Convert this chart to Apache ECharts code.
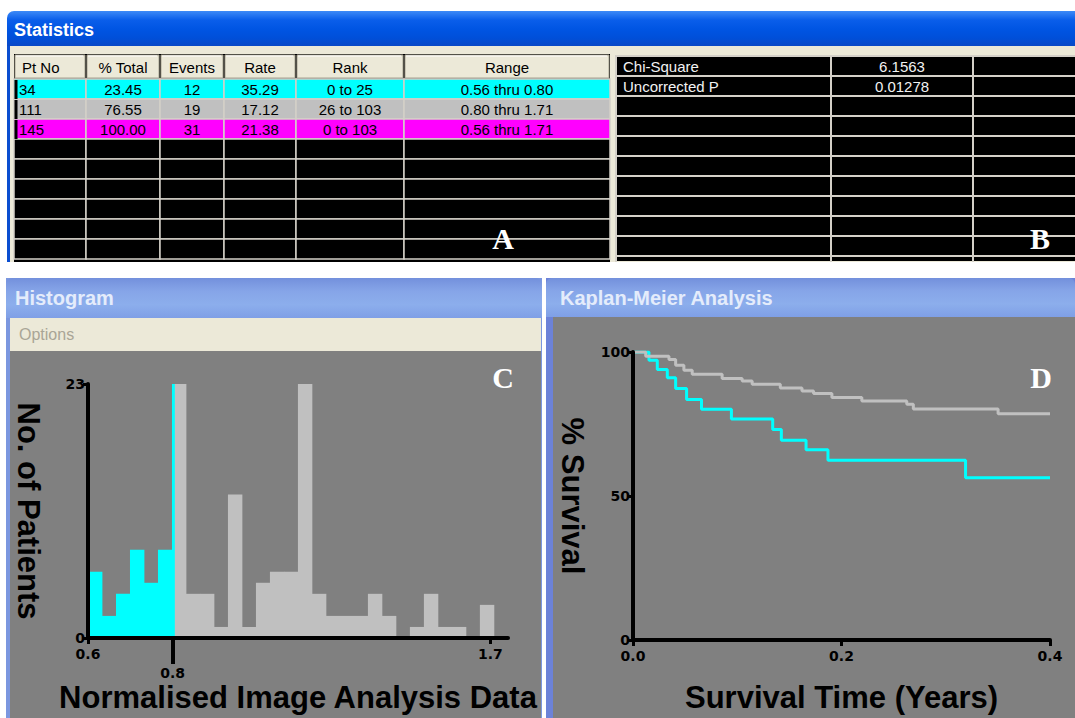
<!DOCTYPE html>
<html><head><meta charset="utf-8">
<script src="https://cdn.jsdelivr.net/npm/echarts@6/dist/echarts.min.js"></script>
<style>html,body{margin:0;padding:0;background:#fff;overflow:hidden}#c{width:1075px;height:718px}</style>
</head><body><div id="c"></div>
<script>
// ---------------- data ----------------
const statHeaders = ['Pt No', '% Total', 'Events', 'Rate', 'Rank', 'Range'];
const statPtNo = ['34', '111', '145'];
const statPctTotal = ['23.45', '76.55', '100.00'];
const statEvents = ['12', '19', '31'];
const statRate = ['35.29', '17.12', '21.38'];
const statRank = ['0 to 25', '26 to 103', '0 to 103'];
const statRange = ['0.56 thru 0.80', '0.80 thru 1.71', '0.56 thru 1.71'];
const testNames = ['Chi-Square', 'Uncorrected P'];
const testValues = ['6.1563', '0.01278'];

const histMin = 0.56, histMax = 1.71, histCut = 0.806;
const histCounts = [6, 2, 4, 8, 5, 8, 23, 4, 4, 1, 13, 1, 5, 6, 6, 23, 4, 2, 2, 2, 4, 2, 0, 1, 4, 1, 1, 0, 3];
const histXTicks = [0.56, 1.7];
const histXTickMid = [0.8];

const kmTimeLow = [0, 0.0153, 0.0233, 0.0329, 0.0409, 0.0514, 0.0657, 0.0944, 0.134, 0.1423, 0.166, 0.187, 0.319, 0.4];
const kmSurvLow = [100, 97.1, 93.9, 91.1, 87.3, 83.5, 80.1, 76.7, 73.1, 69.4, 66.1, 62.4, 56.3, 56.3];
const kmTimeHigh = [0, 0.0122, 0.0345, 0.0409, 0.0488, 0.0568, 0.0855, 0.1047, 0.1143, 0.1413, 0.1621, 0.1732, 0.1908, 0.2195, 0.2626, 0.2689, 0.3502, 0.4];
const kmSurvHigh = [100, 98.5, 97.4, 95.4, 93.7, 92.3, 90.8, 89.9, 88.8, 87.5, 86.5, 85.6, 84.2, 83.0, 81.9, 80.2, 78.6, 78.6];

// ---------------- styles ----------------
const CYAN = '#00FFFF', GREY = '#C0C0C0', MAGENTA = '#FF00FF';
const rowColors = [CYAN, GREY, MAGENTA];
const BEIGE = '#ECE9D8', GRIDLINE = '#D4D0C8', PLOTBG = '#808080';
const SANS = '"Liberation Sans", Arial, sans-serif';

const G = [];
function rect(x, y, w, h, fill, extra) {
  G.push(Object.assign({ type: 'rect', silent: true, z: -5, shape: { x, y, width: w, height: h }, style: { fill } }, extra || {}));
}
function line(x1, y1, x2, y2, stroke, lw) {
  G.push({ type: 'line', silent: true, z: -4, shape: { x1, y1, x2, y2 }, style: { stroke, lineWidth: lw } });
}
function txt(x, y, t, font, fill, align, extra) {
  G.push(Object.assign({ type: 'text', silent: true, z: 60, x, y,
    style: { text: t, font, fill, align: align || 'left', verticalAlign: 'middle' } }, extra || {}));
}
const vgrad = (stops) => ({ type: 'linear', x: 0, y: 0, x2: 0, y2: 1, colorStops: stops.map((c, i) => ({ offset: i / (stops.length - 1), color: c })) });

// ---- Statistics window ----
rect(7, 11, 1068, 36, vgrad(['#3D8AF7', '#0A5EEA', '#0055E3', '#004FD9', '#0A47C4']), { shape: { x: 7, y: 11, width: 1068, height: 36, r: [7, 0, 0, 0] } });
rect(7, 46, 3, 216, '#0A4ED0');
rect(10, 46, 1065, 216, BEIGE);
txt(14, 30, 'Statistics', 'bold 18px ' + SANS, '#FFFFFF', 'left', { style: { text: 'Statistics', font: 'bold 18px ' + SANS, fill: '#FFFFFF', align: 'left', verticalAlign: 'middle', textShadowColor: '#0A2A8A', textShadowOffsetX: 1, textShadowOffsetY: 1, textShadowBlur: 0 } });

// Table A
const colX = [14, 86, 160, 224, 296, 404, 610];
const rowTop = 79, rowH = 20, nRows = 9;
rect(14, 54, 596, 208, '#000000');
statHeaders.forEach((h, j) => {
  const x = colX[j], w = colX[j + 1] - colX[j];
  rect(x + 1, 55, w - 2, 23, BEIGE, { style: { fill: BEIGE, stroke: '#A7A391', lineWidth: 1 } });
  line(x + 2, 56, x + w - 3, 56, '#FFFFFF', 1);
  txt(j === 0 ? x + 8 : x + w / 2, 67, h, '15px ' + SANS, '#000000', j === 0 ? 'left' : 'center');
});
const tableRows = statPtNo.map((p, i) => [p, statPctTotal[i], statEvents[i], statRate[i], statRank[i], statRange[i]]);
for (let i = 0; i < nRows; i++) {
  const y = rowTop + i * rowH;
  for (let j = 0; j < colX.length - 1; j++) {
    const x = colX[j], w = colX[j + 1] - colX[j];
    rect(x, y, w, rowH, i < tableRows.length ? rowColors[i] : '#000000', { style: { fill: i < tableRows.length ? rowColors[i] : '#000000', stroke: GRIDLINE, lineWidth: 1.5 } });
    if (i < tableRows.length) {
      txt(j === 0 ? x + 5 : x + w / 2, y + 10.5, tableRows[i][j], '15px ' + SANS, '#000000', j === 0 ? 'left' : 'center');
    }
  }
  if (i < tableRows.length) rect(14.5, y + 1, 3, rowH - 1, '#000000', { z: -3 });
}

// Table B
const colXB = [616, 831, 973, 1080];
rect(616, 55, 459, 206, '#000000');
for (let i = 0; i <= 10; i++) line(616, 56 + i * 20, 1075, 56 + i * 20, GRIDLINE, 2);
colXB.slice(0, 3).forEach(x => line(x, 55, x, 262, GRIDLINE, 2));
testNames.forEach((n, i) => {
  txt(623, 66.5 + i * 20, n, '15px ' + SANS, '#F2F2F2', 'left');
  txt((colXB[1] + colXB[2]) / 2, 66.5 + i * 20, testValues[i], '15px ' + SANS, '#F2F2F2', 'center');
});
rect(0, 262, 1075, 16, '#FFFFFF', { z: -2 });

// ---- Histogram window ----
const titleGrad = vgrad(['#7390DC', '#86A5E8', '#8CAEEC', '#7F9FE6']);
rect(6, 278, 536, 440, '#7B97DF');
rect(6, 278, 536, 40, titleGrad, { shape: { x: 6, y: 278, width: 536, height: 40, r: [6, 6, 0, 0] } });
txt(15, 298, 'Histogram', 'bold 20px ' + SANS, '#E4ECFB', 'left');
rect(10, 318, 531, 33, BEIGE);
txt(19, 334, 'Options', '16px ' + SANS, '#A9A596', 'left');
rect(10, 351, 531, 367, PLOTBG);

// ---- Kaplan-Meier window ----
rect(546, 278, 529, 440, '#6C82D8');
rect(546, 278, 529, 39, titleGrad, { shape: { x: 546, y: 278, width: 529, height: 39, r: [6, 6, 0, 0] } });
txt(560, 298, 'Kaplan-Meier Analysis', 'bold 20px ' + SANS, '#E4ECFB', 'left');
rect(553, 317, 522, 401, PLOTBG);

// panel letters
const LETTER = 'bold 30px "Liberation Serif", "Times New Roman", serif';
txt(503, 238, 'A', LETTER, '#FFFFFF', 'center');
txt(1040, 238, 'B', LETTER, '#FFFFFF', 'center');
txt(503, 377, 'C', LETTER, '#FFFFFF', 'center');
txt(1041, 377, 'D', LETTER, '#FFFFFF', 'center');

// ---------------- series helpers ----------------
function histSegments(lo, hi) {
  const w = (histMax - histMin) / histCounts.length;
  const out = [];
  histCounts.forEach((c, i) => {
    const a = Math.max(histMin + i * w, lo), b = Math.min(histMin + (i + 1) * w, hi);
    if (b > a && c > 0) out.push([a, b, c]);
  });
  return out;
}
function renderBin(params, api) {
  const p0 = api.coord([api.value(0), api.value(2)]);
  const p1 = api.coord([api.value(1), 0]);
  return { type: 'rect', shape: { x: p0[0], y: p0[1], width: p1[0] - p0[0] + 0.4, height: p1[1] - p0[1] }, style: { fill: api.visual('color') } };
}
const zip = (a, b) => a.map((v, i) => [v, b[i]]);

const axisLineStyle = { color: '#000', width: 4 };
const nameStyle = { fontFamily: SANS, fontWeight: 'bold', fontSize: 31, color: '#000' };
const tickLabel = { color: '#000', fontFamily: '"DejaVu Sans", sans-serif', fontWeight: 'bold', fontSize: 14 };

const chart = echarts.init(document.getElementById('c'), null, { renderer: 'svg', width: 1075, height: 718 });
chart.setOption({
  animation: false,
  backgroundColor: '#FFFFFF',
  graphic: G,
  grid: [
    { left: 88, top: 384, width: 420, height: 254, outerBoundsMode: 'none', containLabel: false },
    { left: 633, top: 352, width: 417, height: 288, outerBoundsMode: 'none', containLabel: false }
  ],
  xAxis: [
    { gridIndex: 0, type: 'value', position: 'bottom', min: 0.56, max: 1.75, z: 5,
      axisLine: { show: true, onZero: false, lineStyle: axisLineStyle },
      axisTick: { show: true, customValues: histXTicks, length: 6, lineStyle: { color: '#000', width: 3 } },
      axisLabel: Object.assign({ customValues: histXTicks, margin: 9, formatter: v => v.toFixed(1) }, tickLabel),
      splitLine: { show: false },
      name: 'Normalised Image Analysis Data', nameLocation: 'middle', nameGap: 44, nameTextStyle: nameStyle },
    { gridIndex: 0, type: 'value', position: 'bottom', offset: 0, min: 0.56, max: 1.75, z: 5,
      axisLine: { show: false, onZero: false },
      axisTick: { show: true, customValues: histXTickMid, length: 26, lineStyle: { color: '#000', width: 4 } },
      axisLabel: Object.assign({ customValues: histXTickMid, margin: 28, formatter: v => v.toFixed(1) }, tickLabel),
      splitLine: { show: false } },
    { gridIndex: 1, type: 'value', position: 'bottom', min: 0, max: 0.4, interval: 0.2, z: 5,
      axisLine: { show: true, onZero: false, lineStyle: axisLineStyle },
      axisTick: { show: true, length: 6, lineStyle: { color: '#000', width: 3 } },
      axisLabel: Object.assign({ margin: 9, formatter: v => v.toFixed(1) }, tickLabel),
      splitLine: { show: false },
      name: 'Survival Time (Years)', nameLocation: 'middle', nameGap: 42, nameTextStyle: nameStyle }
  ],
  yAxis: [
    { gridIndex: 0, type: 'value', position: 'left', min: 0, max: 23, interval: 23, z: 5,
      axisLine: { show: true, onZero: false, lineStyle: axisLineStyle },
      axisTick: { show: true, length: 5, lineStyle: { color: '#000', width: 3 } },
      axisLabel: Object.assign({ margin: 3 }, tickLabel),
      splitLine: { show: false },
      name: 'No. of Patients', nameLocation: 'middle', nameRotate: -90, nameGap: 44, nameTextStyle: nameStyle },
    { gridIndex: 1, type: 'value', position: 'left', min: 0, max: 100, interval: 50, z: 5,
      axisLine: { show: true, onZero: false, lineStyle: axisLineStyle },
      axisTick: { show: true, length: 5, lineStyle: { color: '#000', width: 3 } },
      axisLabel: Object.assign({ margin: 3 }, tickLabel),
      splitLine: { show: false },
      name: '% Survival', nameLocation: 'middle', nameRotate: -90, nameGap: 45, nameTextStyle: nameStyle }
  ],
  series: [
    { type: 'custom', name: '0.56 thru 0.80', xAxisIndex: 0, yAxisIndex: 0, renderItem: renderBin,
      encode: { x: [0, 1], y: 2 }, itemStyle: { color: CYAN }, data: histSegments(histMin, histCut), z: 2 },
    { type: 'custom', name: '0.80 thru 1.71', xAxisIndex: 0, yAxisIndex: 0, renderItem: renderBin,
      encode: { x: [0, 1], y: 2 }, itemStyle: { color: GREY }, data: histSegments(histCut, histMax), z: 2 },
    { type: 'line', name: '0.56 thru 0.80', xAxisIndex: 2, yAxisIndex: 1, step: 'end', symbol: 'none',
      lineStyle: { color: CYAN, width: 3 }, data: zip(kmTimeLow, kmSurvLow), z: 2 },
    { type: 'line', name: '0.80 thru 1.71', xAxisIndex: 2, yAxisIndex: 1, step: 'end', symbol: 'none',
      lineStyle: { color: GREY, width: 3 }, data: zip(kmTimeHigh, kmSurvHigh), z: 3 }
  ]
});
</script>
</body></html>
